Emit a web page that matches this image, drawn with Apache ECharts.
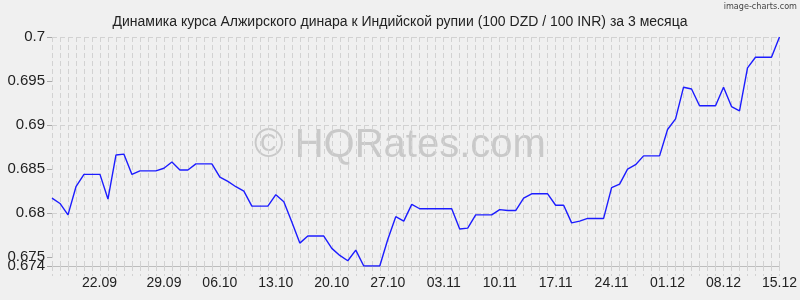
<!DOCTYPE html>
<html>
<head>
<meta charset="utf-8">
<script src="https://cdn.jsdelivr.net/npm/echarts@6/dist/echarts.min.js"></script>
<style>
html,body{margin:0;padding:0;background:#f0f0f0;}
#chart{width:800px;height:300px;}
</style>
</head>
<body>
<div id="chart"></div>
<script>
var titleText = 'Динамика курса Алжирского динара к Индийской рупии (100 DZD / 100 INR) за 3 месяца';
var dates = [
'15.09','16.09','17.09','18.09','19.09','20.09','21.09','22.09','23.09','24.09','25.09','26.09','27.09','28.09','29.09','30.09',
'01.10','02.10','03.10','04.10','05.10','06.10','07.10','08.10','09.10','10.10','11.10','12.10','13.10','14.10','15.10','16.10',
'17.10','18.10','19.10','20.10','21.10','22.10','23.10','24.10','25.10','26.10','27.10','28.10','29.10','30.10','31.10',
'01.11','02.11','03.11','04.11','05.11','06.11','07.11','08.11','09.11','10.11','11.11','12.11','13.11','14.11','15.11',
'16.11','17.11','18.11','19.11','20.11','21.11','22.11','23.11','24.11','25.11','26.11','27.11','28.11','29.11','30.11',
'01.12','02.12','03.12','04.12','05.12','06.12','07.12','08.12','09.12','10.12','11.12','12.12','13.12','14.12','15.12'
];
var rates = [
0.6817,0.6811,0.6798,0.6830,0.6844,0.6844,0.6844,0.6816,0.6866,0.6867,
0.6844,0.6848,0.6848,0.6848,0.6851,0.6858,0.6849,0.6849,0.6856,0.6856,
0.6856,0.6841,0.6836,0.6830,0.6825,0.6808,0.6808,0.6808,0.6821,0.6813,
0.6790,0.6766,0.6774,0.6774,0.6774,0.6760,0.6752,0.6746,0.6758,0.6740,
0.6740,0.6740,0.6770,0.6796,0.6791,0.6810,0.6805,0.6805,0.6805,0.6805,
0.6805,0.6782,0.6783,0.6798,0.6798,0.6798,0.6804,0.6803,0.6803,0.6817,
0.6822,0.6822,0.6822,0.6809,0.6809,0.6789,0.6791,0.6794,0.6794,0.6794,
0.6829,0.6833,0.6850,0.6855,0.6865,0.6865,0.6865,0.6895,0.6907,0.6943,
0.6941,0.6922,0.6922,0.6922,0.6943,0.6921,0.6916,0.6965,0.6977,0.6977,
0.6977,0.7000
];
var xTickLabels = ['22.09','29.09','06.10','13.10','20.10','27.10','03.11','10.11','17.11','24.11','01.12','08.12','15.12'];
var yTickLabels = [0.675,0.68,0.685,0.69,0.695,0.7];
var yMinLabel = [0.674];
var yGridValues = [0.675,0.68,0.685,0.69,0.695,0.7];
var yMin = 0.674, yMax = 0.7;

var chart = echarts.init(document.getElementById('chart'), null, {renderer:'canvas'});
var gridColor = '#d2d2d2';
var yLabelStyle = {margin:7, fontFamily:'Liberation Sans', fontSize:15, color:'#222', hideOverlap:false};
chart.setOption({
  backgroundColor:'#f0f0f0',
  animation:false,
  title:{
    text:titleText, left:'center', top:10,
    textStyle:{fontFamily:'Liberation Sans', fontSize:14, fontWeight:'normal', color:'#222'}
  },
  graphic:[
    {type:'text', right:3, top:2, style:{text:'image-charts.com', font:'9px "DejaVu Sans Condensed", "DejaVu Sans"', fill:'#444'}},
    {type:'text', left:'center', top:126, z:0, style:{text:'© HQRates.com', font:'40px "Liberation Sans"', fill:'#c9c9c9'}}
  ],
  grid:{left:52, right:20, top:37, bottom:34},
  xAxis:{
    type:'category', data:dates, boundaryGap:false,
    axisLine:{show:true, lineStyle:{color:'#bdbdbd', width:1}},
    axisTick:{show:true, interval:0, length:10, lineStyle:{color:gridColor, type:[5,3]}},
    splitLine:{show:true, interval:0, lineStyle:{color:gridColor, type:[5,3], width:1}},
    axisLabel:{
      interval:function(i, v){ return xTickLabels.indexOf(v) >= 0; },
      margin:10, fontFamily:'Liberation Sans', fontSize:14, color:'#222',
      formatter:function(v){ return v === xTickLabels[0] ? '{s|' + v + '}' : v; },
      rich:{s:{fontFamily:'Liberation Sans', fontSize:14, color:'#222', padding:[0,17,0,0]}}
    }
  },
  yAxis:[{
    type:'value', min:yMin, max:yMax, position:'left',
    axisLine:{show:false},
    splitLine:{show:false},
    axisTick:{show:true, length:5, customValues:yTickLabels, lineStyle:{color:'#aaa'}},
    axisLabel:Object.assign({customValues:yTickLabels, showMinLabel:true, showMaxLabel:true}, yLabelStyle)
  },{
    type:'value', min:yMin, max:yMax, position:'left',
    axisLine:{show:false},
    splitLine:{show:false},
    axisTick:{show:true, length:5, customValues:yMinLabel, lineStyle:{color:'#aaa'}},
    axisLabel:Object.assign({customValues:yMinLabel, showMinLabel:true}, yLabelStyle)
  }],
  series:[{
    type:'line', data:rates, z:3, symbol:'none', smooth:false, yAxisIndex:0,
    lineStyle:{color:'#1c1cff', width:1.4},
    markLine:{
      silent:true, symbol:'none', z:1, animation:false,
      label:{show:false},
      lineStyle:{color:gridColor, type:[5,3], width:1},
      data:yGridValues.map(function(v){ return {yAxis:v}; })
    }
  }]
});
</script>
</body>
</html>
